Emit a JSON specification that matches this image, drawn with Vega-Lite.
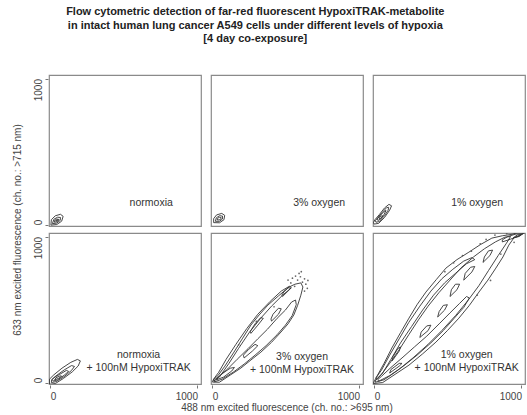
{
"$schema": "https://vega.github.io/schema/vega-lite/v6.json",
"padding": {"left": 12, "top": 6, "right": 2, "bottom": 2},
"background": "white",
"title": {"text": ["Flow cytometric detection of far-red fluorescent HypoxiTRAK-metabolite", "in intact human lung cancer A549 cells under different levels of hypoxia", "[4 day co-exposure]"], "font": "Liberation Sans", "fontSize": 11, "fontWeight": "bold", "color": "#222", "lineHeight": 13.5, "anchor": "middle", "offset": 30, "dx": -14},
"data": {"values": [
{"r":1,"c":1,"k":"c","g":"a1o","x":5,"y":-2},{"r":1,"c":1,"k":"c","g":"a1o","x":45,"y":2},{"r":1,"c":1,"k":"c","g":"a1o","x":78,"y":25},{"r":1,"c":1,"k":"c","g":"a1o","x":88,"y":58},{"r":1,"c":1,"k":"c","g":"a1o","x":70,"y":72},{"r":1,"c":1,"k":"c","g":"a1o","x":35,"y":62},{"r":1,"c":1,"k":"c","g":"a1o","x":8,"y":35},{"r":1,"c":1,"k":"c","g":"a1o","x":5,"y":-2},
{"r":1,"c":1,"k":"c","g":"a1m","x":15,"y":8},{"r":1,"c":1,"k":"c","g":"a1m","x":45,"y":12},{"r":1,"c":1,"k":"c","g":"a1m","x":68,"y":30},{"r":1,"c":1,"k":"c","g":"a1m","x":70,"y":50},{"r":1,"c":1,"k":"c","g":"a1m","x":50,"y":52},{"r":1,"c":1,"k":"c","g":"a1m","x":25,"y":38},{"r":1,"c":1,"k":"c","g":"a1m","x":15,"y":8},
{"r":1,"c":1,"k":"c","g":"a1i","x":28,"y":18},{"r":1,"c":1,"k":"c","g":"a1i","x":50,"y":22},{"r":1,"c":1,"k":"c","g":"a1i","x":60,"y":36},{"r":1,"c":1,"k":"c","g":"a1i","x":45,"y":40},{"r":1,"c":1,"k":"c","g":"a1i","x":30,"y":30},{"r":1,"c":1,"k":"c","g":"a1i","x":28,"y":18},
{"r":1,"c":1,"k":"c","g":"a1j","x":38,"y":26},{"r":1,"c":1,"k":"c","g":"a1j","x":50,"y":29},{"r":1,"c":1,"k":"c","g":"a1j","x":52,"y":35},{"r":1,"c":1,"k":"c","g":"a1j","x":42,"y":33},{"r":1,"c":1,"k":"c","g":"a1j","x":38,"y":26},
{"r":1,"c":2,"k":"c","g":"a2o","x":10,"y":15},{"r":1,"c":2,"k":"c","g":"a2o","x":50,"y":14},{"r":1,"c":2,"k":"c","g":"a2o","x":80,"y":35},{"r":1,"c":2,"k":"c","g":"a2o","x":85,"y":65},{"r":1,"c":2,"k":"c","g":"a2o","x":65,"y":78},{"r":1,"c":2,"k":"c","g":"a2o","x":30,"y":68},{"r":1,"c":2,"k":"c","g":"a2o","x":10,"y":42},{"r":1,"c":2,"k":"c","g":"a2o","x":10,"y":15},
{"r":1,"c":2,"k":"c","g":"a2m","x":22,"y":24},{"r":1,"c":2,"k":"c","g":"a2m","x":50,"y":24},{"r":1,"c":2,"k":"c","g":"a2m","x":70,"y":40},{"r":1,"c":2,"k":"c","g":"a2m","x":70,"y":60},{"r":1,"c":2,"k":"c","g":"a2m","x":50,"y":62},{"r":1,"c":2,"k":"c","g":"a2m","x":28,"y":48},{"r":1,"c":2,"k":"c","g":"a2m","x":22,"y":24},
{"r":1,"c":2,"k":"c","g":"a2i","x":35,"y":33},{"r":1,"c":2,"k":"c","g":"a2i","x":55,"y":35},{"r":1,"c":2,"k":"c","g":"a2i","x":62,"y":48},{"r":1,"c":2,"k":"c","g":"a2i","x":48,"y":52},{"r":1,"c":2,"k":"c","g":"a2i","x":35,"y":42},{"r":1,"c":2,"k":"c","g":"a2i","x":35,"y":33},
{"r":1,"c":3,"k":"c","g":"a3o","x":0,"y":5},{"r":1,"c":3,"k":"c","g":"a3o","x":30,"y":10},{"r":1,"c":3,"k":"c","g":"a3o","x":70,"y":50},{"r":1,"c":3,"k":"c","g":"a3o","x":105,"y":100},{"r":1,"c":3,"k":"c","g":"a3o","x":118,"y":130},{"r":1,"c":3,"k":"c","g":"a3o","x":100,"y":140},{"r":1,"c":3,"k":"c","g":"a3o","x":70,"y":115},{"r":1,"c":3,"k":"c","g":"a3o","x":35,"y":70},{"r":1,"c":3,"k":"c","g":"a3o","x":5,"y":35},{"r":1,"c":3,"k":"c","g":"a3o","x":-5,"y":15},{"r":1,"c":3,"k":"c","g":"a3o","x":0,"y":5},
{"r":1,"c":3,"k":"c","g":"a3m","x":12,"y":18},{"r":1,"c":3,"k":"c","g":"a3m","x":35,"y":22},{"r":1,"c":3,"k":"c","g":"a3m","x":70,"y":62},{"r":1,"c":3,"k":"c","g":"a3m","x":95,"y":100},{"r":1,"c":3,"k":"c","g":"a3m","x":98,"y":120},{"r":1,"c":3,"k":"c","g":"a3m","x":85,"y":118},{"r":1,"c":3,"k":"c","g":"a3m","x":55,"y":85},{"r":1,"c":3,"k":"c","g":"a3m","x":25,"y":50},{"r":1,"c":3,"k":"c","g":"a3m","x":8,"y":28},{"r":1,"c":3,"k":"c","g":"a3m","x":12,"y":18},
{"r":1,"c":3,"k":"c","g":"a3i","x":25,"y":30},{"r":1,"c":3,"k":"c","g":"a3i","x":42,"y":38},{"r":1,"c":3,"k":"c","g":"a3i","x":68,"y":72},{"r":1,"c":3,"k":"c","g":"a3i","x":80,"y":98},{"r":1,"c":3,"k":"c","g":"a3i","x":68,"y":92},{"r":1,"c":3,"k":"c","g":"a3i","x":40,"y":62},{"r":1,"c":3,"k":"c","g":"a3i","x":20,"y":40},{"r":1,"c":3,"k":"c","g":"a3i","x":25,"y":30},
{"r":1,"c":3,"k":"c","g":"a3j","x":35,"y":40},{"r":1,"c":3,"k":"c","g":"a3j","x":50,"y":48},{"r":1,"c":3,"k":"c","g":"a3j","x":58,"y":62},{"r":1,"c":3,"k":"c","g":"a3j","x":48,"y":60},{"r":1,"c":3,"k":"c","g":"a3j","x":35,"y":50},{"r":1,"c":3,"k":"c","g":"a3j","x":35,"y":40},
{"r":2,"c":1,"k":"c","g":"b1o","x":-5,"y":-10},{"r":2,"c":1,"k":"c","g":"b1o","x":35,"y":-5},{"r":2,"c":1,"k":"c","g":"b1o","x":90,"y":30},{"r":2,"c":1,"k":"c","g":"b1o","x":150,"y":75},{"r":2,"c":1,"k":"c","g":"b1o","x":190,"y":115},{"r":2,"c":1,"k":"c","g":"b1o","x":205,"y":150},{"r":2,"c":1,"k":"c","g":"b1o","x":185,"y":160},{"r":2,"c":1,"k":"c","g":"b1o","x":140,"y":140},{"r":2,"c":1,"k":"c","g":"b1o","x":80,"y":100},{"r":2,"c":1,"k":"c","g":"b1o","x":25,"y":55},{"r":2,"c":1,"k":"c","g":"b1o","x":-5,"y":25},{"r":2,"c":1,"k":"c","g":"b1o","x":-5,"y":-10},
{"r":2,"c":1,"k":"c","g":"b1m","x":8,"y":2},{"r":2,"c":1,"k":"c","g":"b1m","x":40,"y":8},{"r":2,"c":1,"k":"c","g":"b1m","x":95,"y":42},{"r":2,"c":1,"k":"c","g":"b1m","x":145,"y":85},{"r":2,"c":1,"k":"c","g":"b1m","x":165,"y":112},{"r":2,"c":1,"k":"c","g":"b1m","x":145,"y":118},{"r":2,"c":1,"k":"c","g":"b1m","x":95,"y":88},{"r":2,"c":1,"k":"c","g":"b1m","x":40,"y":48},{"r":2,"c":1,"k":"c","g":"b1m","x":10,"y":22},{"r":2,"c":1,"k":"c","g":"b1m","x":8,"y":2},
{"r":2,"c":1,"k":"c","g":"b1i","x":20,"y":12},{"r":2,"c":1,"k":"c","g":"b1i","x":50,"y":20},{"r":2,"c":1,"k":"c","g":"b1i","x":95,"y":52},{"r":2,"c":1,"k":"c","g":"b1i","x":125,"y":78},{"r":2,"c":1,"k":"c","g":"b1i","x":110,"y":85},{"r":2,"c":1,"k":"c","g":"b1i","x":65,"y":58},{"r":2,"c":1,"k":"c","g":"b1i","x":25,"y":35},{"r":2,"c":1,"k":"c","g":"b1i","x":15,"y":22},{"r":2,"c":1,"k":"c","g":"b1i","x":20,"y":12},
{"r":2,"c":1,"k":"c","g":"b1j","x":30,"y":20},{"r":2,"c":1,"k":"c","g":"b1j","x":55,"y":30},{"r":2,"c":1,"k":"c","g":"b1j","x":78,"y":45},{"r":2,"c":1,"k":"c","g":"b1j","x":68,"y":48},{"r":2,"c":1,"k":"c","g":"b1j","x":40,"y":35},{"r":2,"c":1,"k":"c","g":"b1j","x":30,"y":20},
{"r":2,"c":2,"k":"c","g":"b2o","x":2,"y":5},{"r":2,"c":2,"k":"c","g":"b2o","x":49,"y":4},{"r":2,"c":2,"k":"c","g":"b2o","x":123,"y":53},{"r":2,"c":2,"k":"c","g":"b2o","x":195,"y":101},{"r":2,"c":2,"k":"c","g":"b2o","x":263,"y":156},{"r":2,"c":2,"k":"c","g":"b2o","x":331,"y":210},{"r":2,"c":2,"k":"c","g":"b2o","x":403,"y":277},{"r":2,"c":2,"k":"c","g":"b2o","x":467,"y":347},{"r":2,"c":2,"k":"c","g":"b2o","x":515,"y":403},{"r":2,"c":2,"k":"c","g":"b2o","x":554,"y":463},{"r":2,"c":2,"k":"c","g":"b2o","x":580,"y":529},{"r":2,"c":2,"k":"c","g":"b2o","x":602,"y":599},{"r":2,"c":2,"k":"c","g":"b2o","x":616,"y":655},{"r":2,"c":2,"k":"c","g":"b2o","x":602,"y":683},{"r":2,"c":2,"k":"c","g":"b2o","x":562,"y":674},{"r":2,"c":2,"k":"c","g":"b2o","x":521,"y":654},{"r":2,"c":2,"k":"c","g":"b2o","x":450,"y":594},{"r":2,"c":2,"k":"c","g":"b2o","x":378,"y":531},{"r":2,"c":2,"k":"c","g":"b2o","x":319,"y":464},{"r":2,"c":2,"k":"c","g":"b2o","x":263,"y":395},{"r":2,"c":2,"k":"c","g":"b2o","x":207,"y":305},{"r":2,"c":2,"k":"c","g":"b2o","x":148,"y":210},{"r":2,"c":2,"k":"c","g":"b2o","x":86,"y":114},{"r":2,"c":2,"k":"c","g":"b2o","x":39,"y":49},{"r":2,"c":2,"k":"c","g":"b2o","x":7,"y":21},{"r":2,"c":2,"k":"c","g":"b2o","x":2,"y":5},
{"r":2,"c":2,"k":"c","g":"b2u","x":11,"y":11},{"r":2,"c":2,"k":"c","g":"b2u","x":49,"y":39},{"r":2,"c":2,"k":"c","g":"b2u","x":114,"y":133},{"r":2,"c":2,"k":"c","g":"b2u","x":179,"y":235},{"r":2,"c":2,"k":"c","g":"b2u","x":254,"y":347},{"r":2,"c":2,"k":"c","g":"b2u","x":329,"y":441},{"r":2,"c":2,"k":"c","g":"b2u","x":403,"y":524},{"r":2,"c":2,"k":"c","g":"b2u","x":478,"y":599},{"r":2,"c":2,"k":"c","g":"b2u","x":538,"y":650},{"r":2,"c":2,"k":"c","g":"b2u","x":524,"y":660},{"r":2,"c":2,"k":"c","g":"b2u","x":469,"y":627},{"r":2,"c":2,"k":"c","g":"b2u","x":394,"y":557},{"r":2,"c":2,"k":"c","g":"b2u","x":310,"y":469},{"r":2,"c":2,"k":"c","g":"b2u","x":235,"y":371},{"r":2,"c":2,"k":"c","g":"b2u","x":161,"y":263},{"r":2,"c":2,"k":"c","g":"b2u","x":95,"y":161},{"r":2,"c":2,"k":"c","g":"b2u","x":44,"y":72},{"r":2,"c":2,"k":"c","g":"b2u","x":9,"y":25},{"r":2,"c":2,"k":"c","g":"b2u","x":11,"y":11},
{"r":2,"c":2,"k":"c","g":"b2l","x":16,"y":7},{"r":2,"c":2,"k":"c","g":"b2l","x":67,"y":25},{"r":2,"c":2,"k":"c","g":"b2l","x":142,"y":72},{"r":2,"c":2,"k":"c","g":"b2l","x":217,"y":128},{"r":2,"c":2,"k":"c","g":"b2l","x":291,"y":189},{"r":2,"c":2,"k":"c","g":"b2l","x":366,"y":254},{"r":2,"c":2,"k":"c","g":"b2l","x":441,"y":329},{"r":2,"c":2,"k":"c","g":"b2l","x":497,"y":394},{"r":2,"c":2,"k":"c","g":"b2l","x":543,"y":459},{"r":2,"c":2,"k":"c","g":"b2l","x":571,"y":534},{"r":2,"c":2,"k":"c","g":"b2l","x":566,"y":566},{"r":2,"c":2,"k":"c","g":"b2l","x":539,"y":552},{"r":2,"c":2,"k":"c","g":"b2l","x":497,"y":497},{"r":2,"c":2,"k":"c","g":"b2l","x":441,"y":441},{"r":2,"c":2,"k":"c","g":"b2l","x":375,"y":366},{"r":2,"c":2,"k":"c","g":"b2l","x":310,"y":301},{"r":2,"c":2,"k":"c","g":"b2l","x":245,"y":235},{"r":2,"c":2,"k":"c","g":"b2l","x":170,"y":161},{"r":2,"c":2,"k":"c","g":"b2l","x":105,"y":95},{"r":2,"c":2,"k":"c","g":"b2l","x":49,"y":44},{"r":2,"c":2,"k":"c","g":"b2l","x":16,"y":21},{"r":2,"c":2,"k":"c","g":"b2l","x":16,"y":7},
{"r":2,"c":2,"k":"c","g":"b2i1","x":30,"y":21},{"r":2,"c":2,"k":"c","g":"b2i1","x":77,"y":39},{"r":2,"c":2,"k":"c","g":"b2i1","x":133,"y":81},{"r":2,"c":2,"k":"c","g":"b2i1","x":151,"y":105},{"r":2,"c":2,"k":"c","g":"b2i1","x":123,"y":100},{"r":2,"c":2,"k":"c","g":"b2i1","x":67,"y":63},{"r":2,"c":2,"k":"c","g":"b2i1","x":35,"y":35},{"r":2,"c":2,"k":"c","g":"b2i1","x":30,"y":21},
{"r":2,"c":2,"k":"c","g":"b2i2","x":217,"y":170},{"r":2,"c":2,"k":"c","g":"b2i2","x":273,"y":217},{"r":2,"c":2,"k":"c","g":"b2i2","x":310,"y":254},{"r":2,"c":2,"k":"c","g":"b2i2","x":291,"y":263},{"r":2,"c":2,"k":"c","g":"b2i2","x":245,"y":226},{"r":2,"c":2,"k":"c","g":"b2i2","x":212,"y":189},{"r":2,"c":2,"k":"c","g":"b2i2","x":217,"y":170},
{"r":2,"c":2,"k":"c","g":"b2i3","x":263,"y":338},{"r":2,"c":2,"k":"c","g":"b2i3","x":310,"y":394},{"r":2,"c":2,"k":"c","g":"b2i3","x":347,"y":441},{"r":2,"c":2,"k":"c","g":"b2i3","x":329,"y":445},{"r":2,"c":2,"k":"c","g":"b2i3","x":291,"y":403},{"r":2,"c":2,"k":"c","g":"b2i3","x":259,"y":352},{"r":2,"c":2,"k":"c","g":"b2i3","x":263,"y":338},
{"r":2,"c":2,"k":"c","g":"b2i4","x":403,"y":422},{"r":2,"c":2,"k":"c","g":"b2i4","x":450,"y":469},{"r":2,"c":2,"k":"c","g":"b2i4","x":469,"y":506},{"r":2,"c":2,"k":"c","g":"b2i4","x":450,"y":510},{"r":2,"c":2,"k":"c","g":"b2i4","x":413,"y":469},{"r":2,"c":2,"k":"c","g":"b2i4","x":399,"y":436},{"r":2,"c":2,"k":"c","g":"b2i4","x":403,"y":422},
{"r":2,"c":2,"k":"c","g":"b2i5","x":478,"y":590},{"r":2,"c":2,"k":"c","g":"b2i5","x":515,"y":627},{"r":2,"c":2,"k":"c","g":"b2i5","x":534,"y":646},{"r":2,"c":2,"k":"c","g":"b2i5","x":515,"y":650},{"r":2,"c":2,"k":"c","g":"b2i5","x":487,"y":622},{"r":2,"c":2,"k":"c","g":"b2i5","x":473,"y":599},{"r":2,"c":2,"k":"c","g":"b2i5","x":478,"y":590},
{"r":2,"c":3,"k":"c","g":"b3o","x":-5,"y":-5},{"r":2,"c":3,"k":"c","g":"b3o","x":58,"y":2},{"r":2,"c":3,"k":"c","g":"b3o","x":142,"y":58},{"r":2,"c":3,"k":"c","g":"b3o","x":236,"y":121},{"r":2,"c":3,"k":"c","g":"b3o","x":329,"y":198},{"r":2,"c":3,"k":"c","g":"b3o","x":419,"y":278},{"r":2,"c":3,"k":"c","g":"b3o","x":497,"y":357},{"r":2,"c":3,"k":"c","g":"b3o","x":575,"y":442},{"r":2,"c":3,"k":"c","g":"b3o","x":646,"y":529},{"r":2,"c":3,"k":"c","g":"b3o","x":711,"y":620},{"r":2,"c":3,"k":"c","g":"b3o","x":772,"y":702},{"r":2,"c":3,"k":"c","g":"b3o","x":826,"y":784},{"r":2,"c":3,"k":"c","g":"b3o","x":874,"y":860},{"r":2,"c":3,"k":"c","g":"b3o","x":914,"y":941},{"r":2,"c":3,"k":"c","g":"b3o","x":949,"y":991},{"r":2,"c":3,"k":"c","g":"b3o","x":1000,"y":1014},{"r":2,"c":3,"k":"c","g":"b3o","x":1030,"y":1030},{"r":2,"c":3,"k":"c","g":"b3o","x":980,"y":1030},{"r":2,"c":3,"k":"c","g":"b3o","x":942,"y":1016},{"r":2,"c":3,"k":"c","g":"b3o","x":870,"y":1005},{"r":2,"c":3,"k":"c","g":"b3o","x":799,"y":989},{"r":2,"c":3,"k":"c","g":"b3o","x":720,"y":944},{"r":2,"c":3,"k":"c","g":"b3o","x":643,"y":893},{"r":2,"c":3,"k":"c","g":"b3o","x":562,"y":842},{"r":2,"c":3,"k":"c","g":"b3o","x":487,"y":784},{"r":2,"c":3,"k":"c","g":"b3o","x":422,"y":706},{"r":2,"c":3,"k":"c","g":"b3o","x":351,"y":620},{"r":2,"c":3,"k":"c","g":"b3o","x":291,"y":534},{"r":2,"c":3,"k":"c","g":"b3o","x":236,"y":442},{"r":2,"c":3,"k":"c","g":"b3o","x":179,"y":343},{"r":2,"c":3,"k":"c","g":"b3o","x":120,"y":238},{"r":2,"c":3,"k":"c","g":"b3o","x":67,"y":133},{"r":2,"c":3,"k":"c","g":"b3o","x":21,"y":49},{"r":2,"c":3,"k":"c","g":"b3o","x":-2,"y":6},{"r":2,"c":3,"k":"c","g":"b3o","x":-5,"y":-5},
{"r":2,"c":3,"k":"c","g":"b3m","x":7,"y":4},{"r":2,"c":3,"k":"c","g":"b3m","x":67,"y":21},{"r":2,"c":3,"k":"c","g":"b3m","x":161,"y":86},{"r":2,"c":3,"k":"c","g":"b3m","x":263,"y":170},{"r":2,"c":3,"k":"c","g":"b3m","x":366,"y":263},{"r":2,"c":3,"k":"c","g":"b3m","x":459,"y":357},{"r":2,"c":3,"k":"c","g":"b3m","x":552,"y":459},{"r":2,"c":3,"k":"c","g":"b3m","x":636,"y":562},{"r":2,"c":3,"k":"c","g":"b3m","x":711,"y":664},{"r":2,"c":3,"k":"c","g":"b3m","x":776,"y":767},{"r":2,"c":3,"k":"c","g":"b3m","x":842,"y":870},{"r":2,"c":3,"k":"c","g":"b3m","x":898,"y":954},{"r":2,"c":3,"k":"c","g":"b3m","x":926,"y":1000},{"r":2,"c":3,"k":"c","g":"b3m","x":888,"y":996},{"r":2,"c":3,"k":"c","g":"b3m","x":823,"y":963},{"r":2,"c":3,"k":"c","g":"b3m","x":748,"y":916},{"r":2,"c":3,"k":"c","g":"b3m","x":674,"y":860},{"r":2,"c":3,"k":"c","g":"b3m","x":590,"y":786},{"r":2,"c":3,"k":"c","g":"b3m","x":515,"y":702},{"r":2,"c":3,"k":"c","g":"b3m","x":441,"y":618},{"r":2,"c":3,"k":"c","g":"b3m","x":366,"y":524},{"r":2,"c":3,"k":"c","g":"b3m","x":301,"y":431},{"r":2,"c":3,"k":"c","g":"b3m","x":235,"y":329},{"r":2,"c":3,"k":"c","g":"b3m","x":170,"y":226},{"r":2,"c":3,"k":"c","g":"b3m","x":105,"y":133},{"r":2,"c":3,"k":"c","g":"b3m","x":49,"y":58},{"r":2,"c":3,"k":"c","g":"b3m","x":11,"y":21},{"r":2,"c":3,"k":"c","g":"b3m","x":7,"y":4},
{"r":2,"c":3,"k":"c","g":"b3u","x":16,"y":21},{"r":2,"c":3,"k":"c","g":"b3u","x":58,"y":67},{"r":2,"c":3,"k":"c","g":"b3u","x":114,"y":161},{"r":2,"c":3,"k":"c","g":"b3u","x":179,"y":273},{"r":2,"c":3,"k":"c","g":"b3u","x":254,"y":385},{"r":2,"c":3,"k":"c","g":"b3u","x":329,"y":497},{"r":2,"c":3,"k":"c","g":"b3u","x":403,"y":599},{"r":2,"c":3,"k":"c","g":"b3u","x":478,"y":683},{"r":2,"c":3,"k":"c","g":"b3u","x":552,"y":748},{"r":2,"c":3,"k":"c","g":"b3u","x":627,"y":814},{"r":2,"c":3,"k":"c","g":"b3u","x":683,"y":842},{"r":2,"c":3,"k":"c","g":"b3u","x":664,"y":856},{"r":2,"c":3,"k":"c","g":"b3u","x":608,"y":832},{"r":2,"c":3,"k":"c","g":"b3u","x":534,"y":776},{"r":2,"c":3,"k":"c","g":"b3u","x":459,"y":711},{"r":2,"c":3,"k":"c","g":"b3u","x":385,"y":627},{"r":2,"c":3,"k":"c","g":"b3u","x":310,"y":524},{"r":2,"c":3,"k":"c","g":"b3u","x":235,"y":413},{"r":2,"c":3,"k":"c","g":"b3u","x":170,"y":301},{"r":2,"c":3,"k":"c","g":"b3u","x":105,"y":189},{"r":2,"c":3,"k":"c","g":"b3u","x":49,"y":86},{"r":2,"c":3,"k":"c","g":"b3u","x":13,"y":35},{"r":2,"c":3,"k":"c","g":"b3u","x":16,"y":21},
{"r":2,"c":3,"k":"c","g":"b3l","x":30,"y":11},{"r":2,"c":3,"k":"c","g":"b3l","x":105,"y":49},{"r":2,"c":3,"k":"c","g":"b3l","x":198,"y":114},{"r":2,"c":3,"k":"c","g":"b3l","x":291,"y":189},{"r":2,"c":3,"k":"c","g":"b3l","x":385,"y":273},{"r":2,"c":3,"k":"c","g":"b3l","x":469,"y":357},{"r":2,"c":3,"k":"c","g":"b3l","x":543,"y":441},{"r":2,"c":3,"k":"c","g":"b3l","x":608,"y":515},{"r":2,"c":3,"k":"c","g":"b3l","x":646,"y":580},{"r":2,"c":3,"k":"c","g":"b3l","x":627,"y":590},{"r":2,"c":3,"k":"c","g":"b3l","x":580,"y":543},{"r":2,"c":3,"k":"c","g":"b3l","x":515,"y":478},{"r":2,"c":3,"k":"c","g":"b3l","x":441,"y":403},{"r":2,"c":3,"k":"c","g":"b3l","x":357,"y":319},{"r":2,"c":3,"k":"c","g":"b3l","x":273,"y":245},{"r":2,"c":3,"k":"c","g":"b3l","x":189,"y":170},{"r":2,"c":3,"k":"c","g":"b3l","x":114,"y":105},{"r":2,"c":3,"k":"c","g":"b3l","x":49,"y":44},{"r":2,"c":3,"k":"c","g":"b3l","x":25,"y":23},{"r":2,"c":3,"k":"c","g":"b3l","x":30,"y":11},
{"r":2,"c":3,"k":"c","g":"b3i1","x":310,"y":310},{"r":2,"c":3,"k":"c","g":"b3i1","x":366,"y":357},{"r":2,"c":3,"k":"c","g":"b3i1","x":385,"y":394},{"r":2,"c":3,"k":"c","g":"b3i1","x":357,"y":389},{"r":2,"c":3,"k":"c","g":"b3i1","x":319,"y":347},{"r":2,"c":3,"k":"c","g":"b3i1","x":310,"y":310},
{"r":2,"c":3,"k":"c","g":"b3i2","x":431,"y":450},{"r":2,"c":3,"k":"c","g":"b3i2","x":478,"y":497},{"r":2,"c":3,"k":"c","g":"b3i2","x":497,"y":534},{"r":2,"c":3,"k":"c","g":"b3i2","x":469,"y":529},{"r":2,"c":3,"k":"c","g":"b3i2","x":441,"y":487},{"r":2,"c":3,"k":"c","g":"b3i2","x":431,"y":450},
{"r":2,"c":3,"k":"c","g":"b3i3","x":515,"y":590},{"r":2,"c":3,"k":"c","g":"b3i3","x":562,"y":636},{"r":2,"c":3,"k":"c","g":"b3i3","x":580,"y":674},{"r":2,"c":3,"k":"c","g":"b3i3","x":552,"y":674},{"r":2,"c":3,"k":"c","g":"b3i3","x":524,"y":636},{"r":2,"c":3,"k":"c","g":"b3i3","x":515,"y":590},
{"r":2,"c":3,"k":"c","g":"b3i4","x":608,"y":702},{"r":2,"c":3,"k":"c","g":"b3i4","x":664,"y":758},{"r":2,"c":3,"k":"c","g":"b3i4","x":683,"y":795},{"r":2,"c":3,"k":"c","g":"b3i4","x":655,"y":790},{"r":2,"c":3,"k":"c","g":"b3i4","x":618,"y":748},{"r":2,"c":3,"k":"c","g":"b3i4","x":608,"y":702},
{"r":2,"c":3,"k":"c","g":"b3i5","x":739,"y":823},{"r":2,"c":3,"k":"c","g":"b3i5","x":786,"y":870},{"r":2,"c":3,"k":"c","g":"b3i5","x":804,"y":907},{"r":2,"c":3,"k":"c","g":"b3i5","x":776,"y":902},{"r":2,"c":3,"k":"c","g":"b3i5","x":748,"y":860},{"r":2,"c":3,"k":"c","g":"b3i5","x":739,"y":823},
{"r":2,"c":3,"k":"c","g":"b3i6","x":870,"y":963},{"r":2,"c":3,"k":"c","g":"b3i6","x":926,"y":982},{"r":2,"c":3,"k":"c","g":"b3i6","x":991,"y":1005},{"r":2,"c":3,"k":"c","g":"b3i6","x":1010,"y":1019},{"r":2,"c":3,"k":"c","g":"b3i6","x":963,"y":1017},{"r":2,"c":3,"k":"c","g":"b3i6","x":907,"y":1000},{"r":2,"c":3,"k":"c","g":"b3i6","x":870,"y":977},{"r":2,"c":3,"k":"c","g":"b3i6","x":870,"y":963},
{"r":2,"c":3,"k":"c","g":"b3i7","x":944,"y":991},{"r":2,"c":3,"k":"c","g":"b3i7","x":982,"y":1000},{"r":2,"c":3,"k":"c","g":"b3i7","x":1000,"y":1014},{"r":2,"c":3,"k":"c","g":"b3i7","x":972,"y":1011},{"r":2,"c":3,"k":"c","g":"b3i7","x":944,"y":991},
{"r":2,"c":3,"k":"c","g":"b3i8","x":123,"y":151},{"r":2,"c":3,"k":"c","g":"b3i8","x":170,"y":217},{"r":2,"c":3,"k":"c","g":"b3i8","x":179,"y":245},{"r":2,"c":3,"k":"c","g":"b3i8","x":161,"y":235},{"r":2,"c":3,"k":"c","g":"b3i8","x":128,"y":179},{"r":2,"c":3,"k":"c","g":"b3i8","x":123,"y":151},
{"r":2,"c":3,"k":"c","g":"b3i9","x":105,"y":67},{"r":2,"c":3,"k":"c","g":"b3i9","x":170,"y":114},{"r":2,"c":3,"k":"c","g":"b3i9","x":189,"y":133},{"r":2,"c":3,"k":"c","g":"b3i9","x":170,"y":133},{"r":2,"c":3,"k":"c","g":"b3i9","x":114,"y":91},{"r":2,"c":3,"k":"c","g":"b3i9","x":105,"y":67},
{"r":2,"c":2,"k":"p","x":580,"y":702},{"r":2,"c":2,"k":"p","x":599,"y":725},{"r":2,"c":2,"k":"p","x":627,"y":711},{"r":2,"c":2,"k":"p","x":566,"y":730},{"r":2,"c":2,"k":"p","x":613,"y":688},{"r":2,"c":2,"k":"p","x":636,"y":674},{"r":2,"c":2,"k":"p","x":534,"y":683},{"r":2,"c":2,"k":"p","x":646,"y":646},{"r":2,"c":2,"k":"p","x":590,"y":748},{"r":2,"c":2,"k":"p","x":515,"y":702},{"r":2,"c":2,"k":"p","x":627,"y":627},{"r":2,"c":2,"k":"p","x":560,"y":660},{"r":2,"c":2,"k":"p","x":650,"y":700},{"r":2,"c":2,"k":"p","x":605,"y":760},{"r":2,"c":2,"k":"p","x":545,"y":715},{"r":2,"c":2,"k":"p","x":180,"y":260},{"r":2,"c":2,"k":"p","x":300,"y":420},{"r":2,"c":2,"k":"p","x":420,"y":520},
{"r":2,"c":3,"k":"p","x":660,"y":900},{"r":2,"c":3,"k":"p","x":720,"y":950},{"r":2,"c":3,"k":"p","x":820,"y":1010},{"r":2,"c":3,"k":"p","x":900,"y":1020},{"r":2,"c":3,"k":"p","x":760,"y":980},{"r":2,"c":3,"k":"p","x":600,"y":870},{"r":2,"c":3,"k":"p","x":540,"y":820},{"r":2,"c":3,"k":"p","x":860,"y":880},{"r":2,"c":3,"k":"p","x":950,"y":960},{"r":2,"c":3,"k":"p","x":480,"y":760},{"r":2,"c":3,"k":"p","x":700,"y":600},{"r":2,"c":3,"k":"p","x":790,"y":700},
{"r":1,"c":1,"k":"t","x":686,"y":149,"t":"normoxia"},
{"r":1,"c":2,"k":"t","x":726,"y":149,"t":"3% oxygen"},
{"r":1,"c":3,"k":"t","x":699,"y":149,"t":"1% oxygen"},
{"r":2,"c":1,"k":"t","x":600,"y":190,"t":"normoxia\n+ 100nM HypoxiTRAK"},
{"r":2,"c":2,"k":"t","x":610,"y":178,"t":"3% oxygen\n+ 100nM HypoxiTRAK"},
{"r":2,"c":3,"k":"t","x":628,"y":190,"t":"1% oxygen\n+ 100nM HypoxiTRAK"}
]},
"facet": {
  "row": {"field": "r", "type": "nominal", "header": {"labels": false, "title": "633 nm excited fluorescence (ch. no.: >715 nm)", "titleOrient": "left", "titlePadding": 0}},
  "column": {"field": "c", "type": "nominal", "header": {"labels": false, "title": "488 nm excited fluorescence (ch. no.: >695 nm)", "titleOrient": "bottom", "titlePadding": -8}}
},
"spacing": {"row": 5, "column": 8},
"spec": {
  "width": 152,
  "height": 151,
  "encoding": {
    "x": {"field": "x", "type": "quantitative", "scale": {"domain": [-8, 1024], "nice": false, "zero": false},
      "axis": {"values": [0, 1000], "format": "d", "title": null, "labelAlign": {"expr": "datum.value == 0 ? 'left' : 'right'"}, "labelPadding": 3}},
    "y": {"field": "y", "type": "quantitative", "scale": {"domain": [-8, 1024], "nice": false, "zero": false},
      "axis": {"values": [0, 1000], "format": "d", "title": null, "labelAngle": 270, "labelBaseline": "bottom", "labelAlign": {"expr": "datum.value == 0 ? 'left' : 'right'"}, "labelPadding": 2}}
  },
  "layer": [
    {"transform": [{"filter": "datum.k == 'c'"}], "mark": {"type": "line", "strokeWidth": 0.9, "color": "#333", "clip": true}, "encoding": {"detail": {"field": "g", "type": "nominal"}, "order": {"value": null}}},
    {"transform": [{"filter": "datum.k == 'p'"}], "mark": {"type": "circle", "size": 3, "color": "#555", "opacity": 0.9, "clip": true}},
    {"transform": [{"filter": "datum.k == 't'"}], "mark": {"type": "text", "font": "Liberation Sans", "fontSize": 10.5, "color": "#333", "align": "center", "baseline": "middle", "lineBreak": "\n", "lineHeight": 13}, "encoding": {"text": {"field": "t", "type": "nominal"}}}
  ]
},
"config": {
  "view": {"stroke": "#8a8a8a", "strokeWidth": 1.2},
  "axis": {"grid": false, "domain": false, "tickColor": "#777", "tickSize": 3, "labelFont": "Liberation Sans", "labelFontSize": 10, "labelColor": "#444"},
  "header": {"titleFont": "Liberation Sans", "titleFontSize": 10, "titleFontWeight": "normal", "titleColor": "#444"}
}
}
